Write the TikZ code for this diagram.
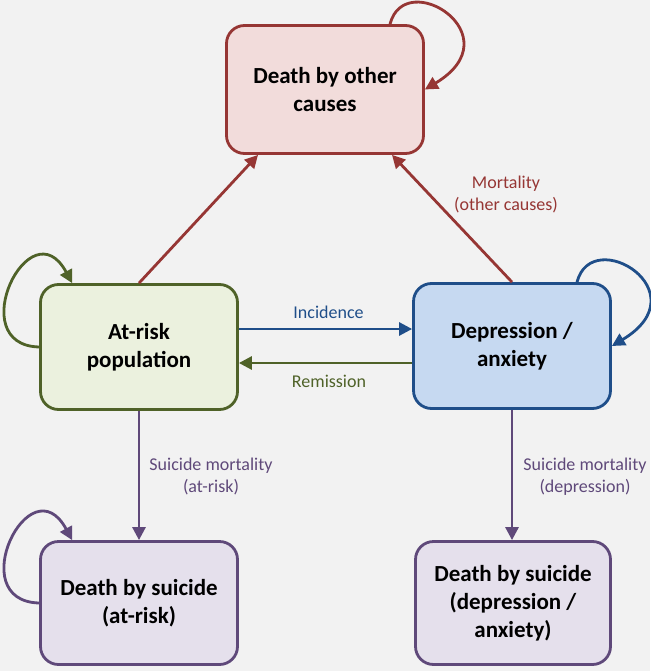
\documentclass[tikz,border=0pt]{standalone}
\usepackage{fontspec}
\setmainfont{Carlito}
\usetikzlibrary{arrows.meta,calc}
\definecolor{bgc}{HTML}{F2F2F2}
\definecolor{redl}{HTML}{963634}
\definecolor{redf}{HTML}{F2DCDB}
\definecolor{grnl}{HTML}{4F6228}
\definecolor{grnf}{HTML}{EBF1DE}
\definecolor{blul}{HTML}{1F4E89}
\definecolor{bluf}{HTML}{C6D9F1}
\definecolor{purl}{HTML}{5F497A}
\definecolor{purf}{HTML}{E5E0EC}
\begin{document}
\begin{tikzpicture}[x=1pt,y=-1pt,
  box/.style={draw, rounded corners=18pt, line width=2.8pt, minimum width=197pt, minimum height=125pt, align=center, font=\fontsize{23}{28}\selectfont\bfseries, text=black, inner sep=0pt},
  conn/.style={line width=2.8pt, -{Triangle[length=13pt,width=13pt]}},
  lbl/.style={font=\fontsize{18}{22}\selectfont, align=center, inner sep=0pt}]
\useasboundingbox (0,0) rectangle (650,671);
\fill[bgc] (0,0) rectangle (650,671);

\node[box, draw=redl, fill=redf, minimum height=128pt] (other) at (325,89.5) {Death by other\\causes};
\node[box, draw=grnl, fill=grnf] (atrisk) at (139,347) {At-risk\\population};
\node[box, draw=blul, fill=bluf] (dep) at (512,346) {Depression /\\anxiety};
\node[box, draw=purl, fill=purf, minimum height=123pt] (sar) at (139,603) {Death by suicide\\(at-risk)};
\node[box, draw=purl, fill=purf, minimum height=123pt, minimum width=195pt] (sdep) at (513,603) {Death by suicide\\(depression /\\anxiety)};

% connectors
\draw[conn, redl] (atrisk.north) -- ([xshift=-67pt]other.south);
\draw[conn, redl] (dep.north) -- ([xshift=67pt]other.south);
\draw[conn, blul] ([yshift=18pt]atrisk.east) -- ([yshift=18pt]atrisk.east -| dep.west);
\draw[conn, grnl] ([yshift=-16pt]atrisk.east -| dep.west) -- ([yshift=-16pt]atrisk.east);
\draw[conn, purl] (atrisk.south) -- (sar.north);
\draw[conn, purl] (dep.south) -- (dep.south |- sdep.north);

% loops
\draw[conn, redl] ([xshift=65pt]other.north) .. controls +(15,-58) and +(90,-54) .. (other.east);
\draw[conn, blul] ([xshift=65pt]dep.north) .. controls +(15,-58) and +(90,-54) .. (dep.east);
\draw[conn, grnl] (atrisk.west) .. controls +(-77,-2) and +(-42,-78) .. ([xshift=33pt]atrisk.north west);
\draw[conn, purl] (sar.west) .. controls +(-77,-2) and +(-42,-78) .. ([xshift=33pt]sar.north west);

% labels
\node[lbl, text=blul] (linc) at (328.5,312) {Incidence};
\node[lbl, text=grnl] (lrem) at (329,381) {Remission};
\node[lbl, text=redl] (lmor) at (506,194.5) {Mortality\\(other causes)};
\node[lbl, text=purl] (lsar) at (211,476.5) {Suicide mortality\\(at-risk)};
\node[lbl, text=purl] (lsdp) at (585,476.5) {Suicide mortality\\(depression)};
\end{tikzpicture}
\end{document}
